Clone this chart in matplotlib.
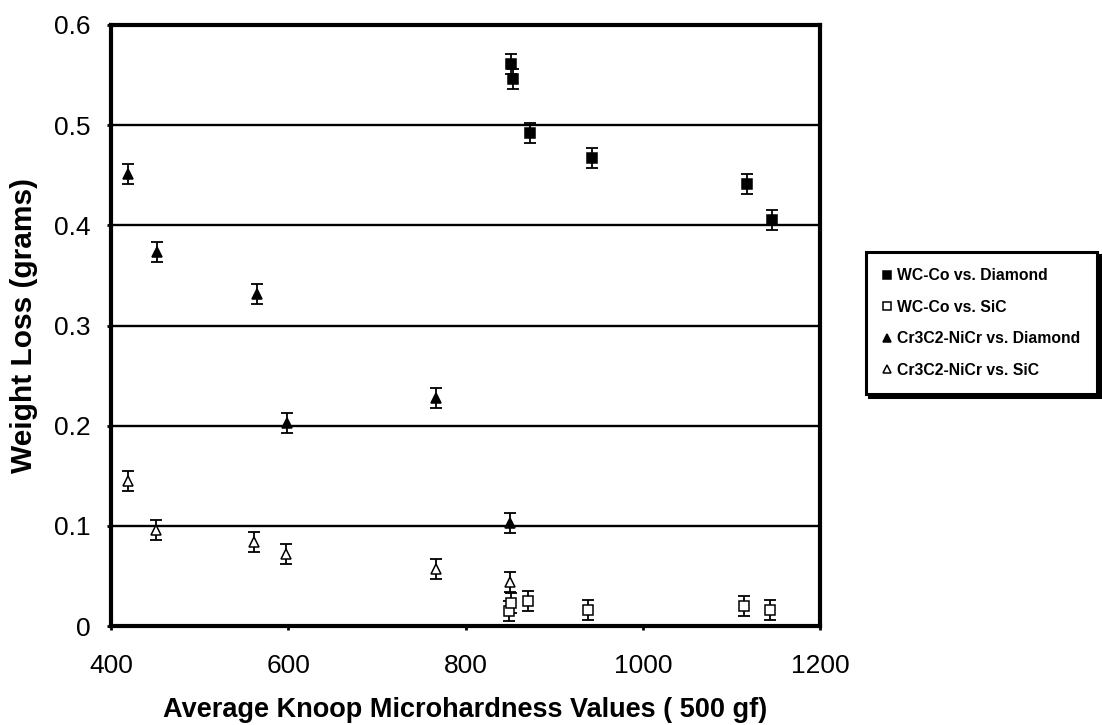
import matplotlib
matplotlib.use("Agg")
import matplotlib.pyplot as plt

plt.rcParams['font.family'] = ['Liberation Sans', 'DejaVu Sans']

# WC-Co vs. Diamond
wc_dia_x = [851, 854, 873, 943, 1118, 1146]
wc_dia_y = [0.561, 0.546, 0.492, 0.467, 0.441, 0.405]
# WC-Co vs. SiC
wc_sic_x = [849, 851, 871, 938, 1114, 1144]
wc_sic_y = [0.015, 0.023, 0.025, 0.016, 0.020, 0.016]
# Cr3C2-NiCr vs. Diamond
cr_dia_x = [419, 452, 565, 599, 767, 850]
cr_dia_y = [0.451, 0.373, 0.331, 0.203, 0.228, 0.103]
# Cr3C2-NiCr vs. SiC
cr_sic_x = [419, 451, 561, 598, 767, 850]
cr_sic_y = [0.145, 0.096, 0.084, 0.072, 0.057, 0.044]
err = 0.01

labels = ["WC-Co vs. Diamond", "WC-Co vs. SiC",
          "Cr3C2-NiCr vs. Diamond", "Cr3C2-NiCr vs. SiC"]
x_ticks = [400, 600, 800, 1000, 1200]
y_ticks = [0, 0.1, 0.2, 0.3, 0.4, 0.5, 0.6]

fig = plt.figure(figsize=(11.02, 7.25), dpi=100)
ax = fig.add_axes([111/1102, 1-626/725, (820-111)/1102, (626-25)/725])

for yv in y_ticks[1:-1]:
    ax.axhline(yv, color='black', lw=1.7, zorder=1)

series = [
    (wc_dia_x, wc_dia_y, 's', 'black'),
    (wc_sic_x, wc_sic_y, 's', 'white'),
    (cr_dia_x, cr_dia_y, '^', 'black'),
    (cr_sic_x, cr_sic_y, '^', 'white'),
]
handles = []
for (xs, ys, m, fc), lab in zip(series, labels):
    ax.errorbar(xs, ys, yerr=err, fmt='none', ecolor='black', elinewidth=1.3,
                capsize=4.0, capthick=1.3, zorder=3)
    h, = ax.plot(xs, ys, linestyle='none', marker=m, markersize=7.5,
                 markerfacecolor=fc, markeredgecolor='black', markeredgewidth=1.1,
                 zorder=4, label=lab)
    handles.append(h)

ax.set_xlim(400, 1200)
ax.set_ylim(0, 0.6)
ax.set_xticks(x_ticks)
ax.set_xticklabels([str(v) for v in x_ticks])
ax.set_yticks(y_ticks)
ax.set_yticklabels(['0' if v == 0 else f'{v:.1f}' for v in y_ticks])
ax.tick_params(axis='both', direction='out', length=3, width=2, labelsize=19, color='black')
ax.tick_params(axis='y', pad=12)
ax.tick_params(axis='x', pad=17)
for s in ax.spines.values():
    s.set_linewidth(3)
    s.set_color('black')

ax.set_xlabel("Average Knoop Microhardness Values ( 500 gf)", fontsize=19.5,
              fontweight='bold', labelpad=14)
ax.set_ylabel("Weight Loss (grams)", fontsize=21.5, fontweight='bold')
ax.yaxis.set_label_coords(-0.103, 0.5)

leg = fig.legend(handles=handles, labels=labels, loc='upper left',
                 bbox_to_anchor=(866/1102, 1-252/725), borderaxespad=0,
                 prop={'weight': 'bold', 'size': 11.3}, frameon=True,
                 fancybox=False, markerscale=0.85, handlelength=0.6,
                 handletextpad=0.35, labelspacing=1.05, borderpad=1.05,
                 shadow={'color': 'black', 'alpha': 1})
leg.get_frame().set_edgecolor('black')
leg.get_frame().set_linewidth(2.2)

fig.savefig("out.png", dpi=100)
